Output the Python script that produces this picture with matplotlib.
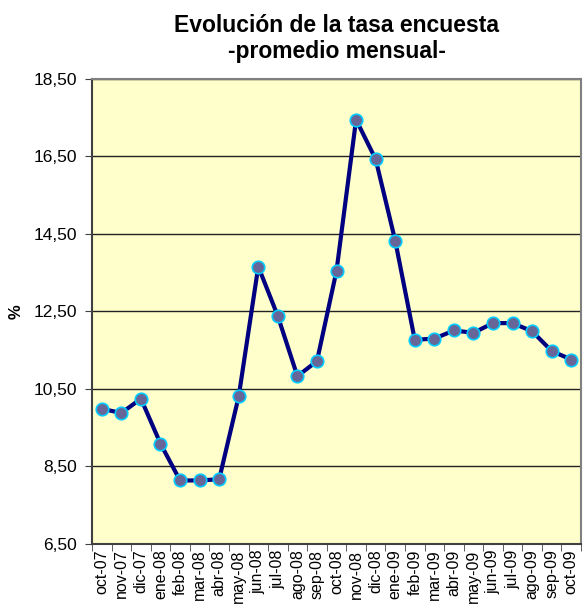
import matplotlib.pyplot as plt
from matplotlib.ticker import FixedLocator, FuncFormatter
import numpy as np

plt.rcParams['font.family'] = ['Liberation Sans', 'DejaVu Sans']

meses = ['oct-07', 'nov-07', 'dic-07', 'ene-08', 'feb-08', 'mar-08', 'abr-08',
         'may-08', 'jun-08', 'jul-08', 'ago-08', 'sep-08', 'oct-08', 'nov-08',
         'dic-08', 'ene-09', 'feb-09', 'mar-09', 'abr-09', 'may-09', 'jun-09',
         'jul-09', 'ago-09', 'sep-09', 'oct-09']
tasa = [9.99, 9.88, 10.25, 9.09, 8.14, 8.14, 8.17, 10.31, 13.66, 12.38,
        10.83, 11.22, 13.55, 17.45, 16.43, 14.33, 11.77, 11.80, 12.01, 11.95,
        12.20, 12.20, 11.99, 11.48, 11.26]
y_ticks = [6.5, 8.5, 10.5, 12.5, 14.5, 16.5, 18.5]

fig = plt.figure(figsize=(5.85, 6.10), dpi=100)
ax = fig.add_axes([0.1573, 0.1082, 0.8359, 0.7623])
ax.set_facecolor('#FFFFCC')

x = np.arange(len(meses))
ax.plot(x, tasa, color='#000080', linewidth=3, marker='o', markersize=9,
        markerfacecolor='#666699', markeredgecolor='#00CCFF', markeredgewidth=1.2,
        zorder=3)

ax.set_xlim(-0.5, len(meses) - 0.5)
ax.set_ylim(y_ticks[0], y_ticks[-1])
ax.set_yticks(y_ticks)
ax.yaxis.set_major_formatter(FuncFormatter(lambda v, p: f'{v:.2f}'.replace('.', ',')))
ax.grid(axis='y', color='#222222', linewidth=1)
ax.set_axisbelow(True)

# etiquetas centradas en las categorias, marcas entre categorias
ax.set_xticks(x)
ax.set_xticklabels(meses, rotation=90, fontsize=11.5)
ax.tick_params(axis='x', which='major', length=0, pad=4)
ax.xaxis.set_minor_locator(FixedLocator(np.arange(-0.5, len(meses), 1)))
ax.tick_params(axis='x', which='minor', length=5, color='#404040', direction='out')
ax.tick_params(axis='y', labelsize=12.5, length=5, color='#404040', direction='out', pad=6)

for s in ['top', 'right']:
    ax.spines[s].set_color('#808080')
    ax.spines[s].set_linewidth(1.5)
for s in ['left', 'bottom']:
    ax.spines[s].set_color('#404040')
    ax.spines[s].set_linewidth(1.5)

ax.set_ylabel('%', fontsize=12, fontweight='bold', labelpad=7)

# titulo centrado sobre el area del grafico
fig.text(0.576, 0.959, 'Evolución de la tasa encuesta', ha='center', va='center',
         fontsize=16.5, fontweight='bold')
fig.text(0.576, 0.915, '-promedio mensual-', ha='center', va='center',
         fontsize=16.5, fontweight='bold')

fig.savefig('out.png', dpi=100)
